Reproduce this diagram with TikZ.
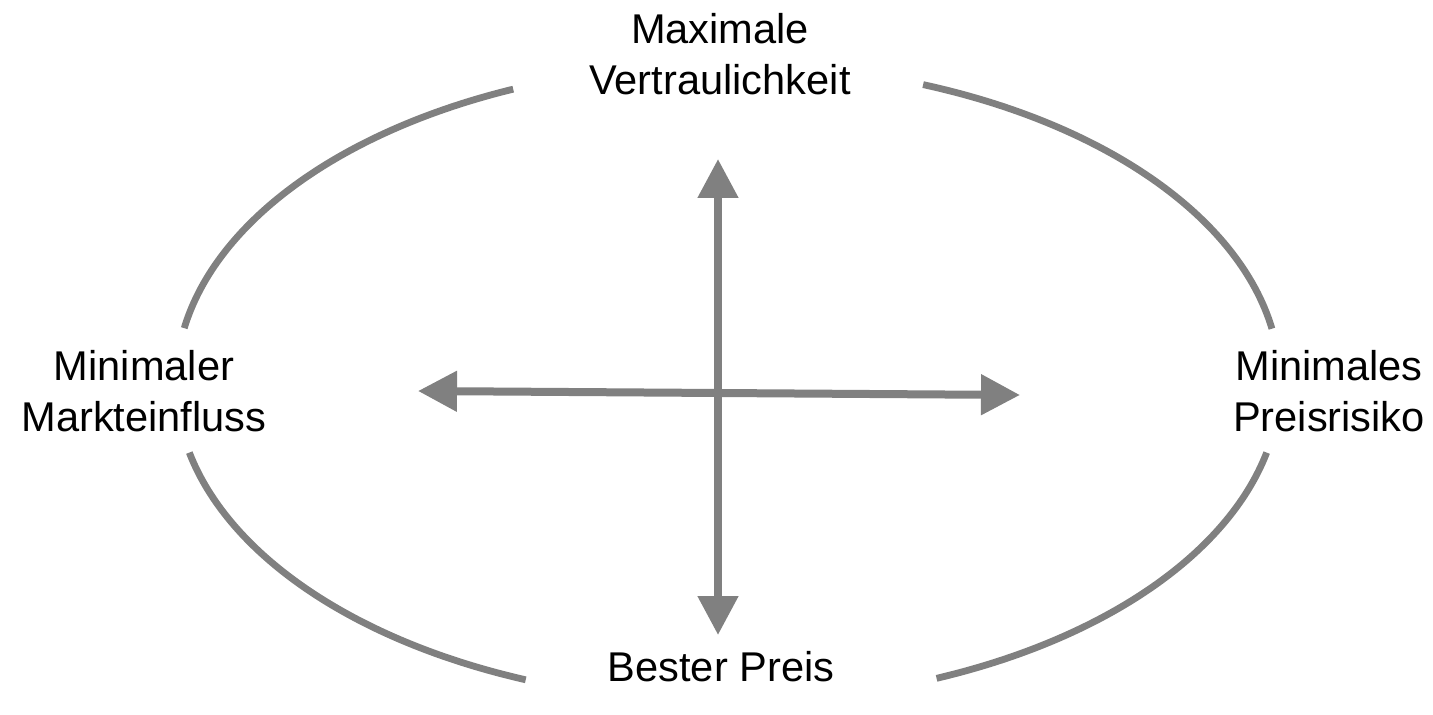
\documentclass[tikz,border=0pt]{standalone}
\usepackage{fontspec}
\setmainfont{Liberation Sans}
\usetikzlibrary{arrows.meta,calc}
\definecolor{arcgray}{RGB}{128,128,128}
\begin{document}
\begin{tikzpicture}[x=0.5pt,y=-0.5pt,
  ell/.style={draw=arcgray,line width=3.4pt},
  axisarrow/.style={draw=arcgray,line width=4pt,{Triangle[length=19.5pt,width=19.5pt]}-{Triangle[length=19.5pt,width=19.5pt]}},
  lbl/.style={font=\fontsize{20.8pt}{25.5pt}\selectfont,align=center,inner sep=0pt,anchor=north,text=black}]
\useasboundingbox (0,0) rectangle (1433,715);
\coordinate (c) at (728,383);
% broken ellipse
\draw[ell] ($(c)+(112.9:276pt and 159.5pt)$) arc[start angle=112.9,end angle=170.1,x radius=276pt,y radius=159.5pt];
\draw[ell] ($(c)+(192.6:276pt and 159.5pt)$) arc[start angle=192.6,end angle=248.5,x radius=276pt,y radius=159.5pt];
\draw[ell] ($(c)+(292.2:276pt and 159.5pt)$) arc[start angle=292.2,end angle=347.4,x radius=276pt,y radius=159.5pt];
\draw[ell] ($(c)+(9.8:276pt and 159.5pt)$) arc[start angle=9.8,end angle=69.3,x radius=276pt,y radius=159.5pt];
% labels
\node[lbl] (top) at (720,13) {Maximale\\Vertraulichkeit};
\node[lbl] (left) at (144,350) {Minimaler\\Markteinfluss};
\node[lbl] (right) at (1329,350) {Minimales\\Preisrisiko};
\node[lbl] (bottom) at (721,651) {Bester Preis};
% axes
\coordinate (vt) at (718,159);
\coordinate (vb) at (718,635);
\coordinate (hl) at (418,391);
\coordinate (hr) at (1020,395);
\draw[axisarrow] (vb) -- (vt);
\draw[axisarrow] (hl) -- (hr);
\end{tikzpicture}
\end{document}
